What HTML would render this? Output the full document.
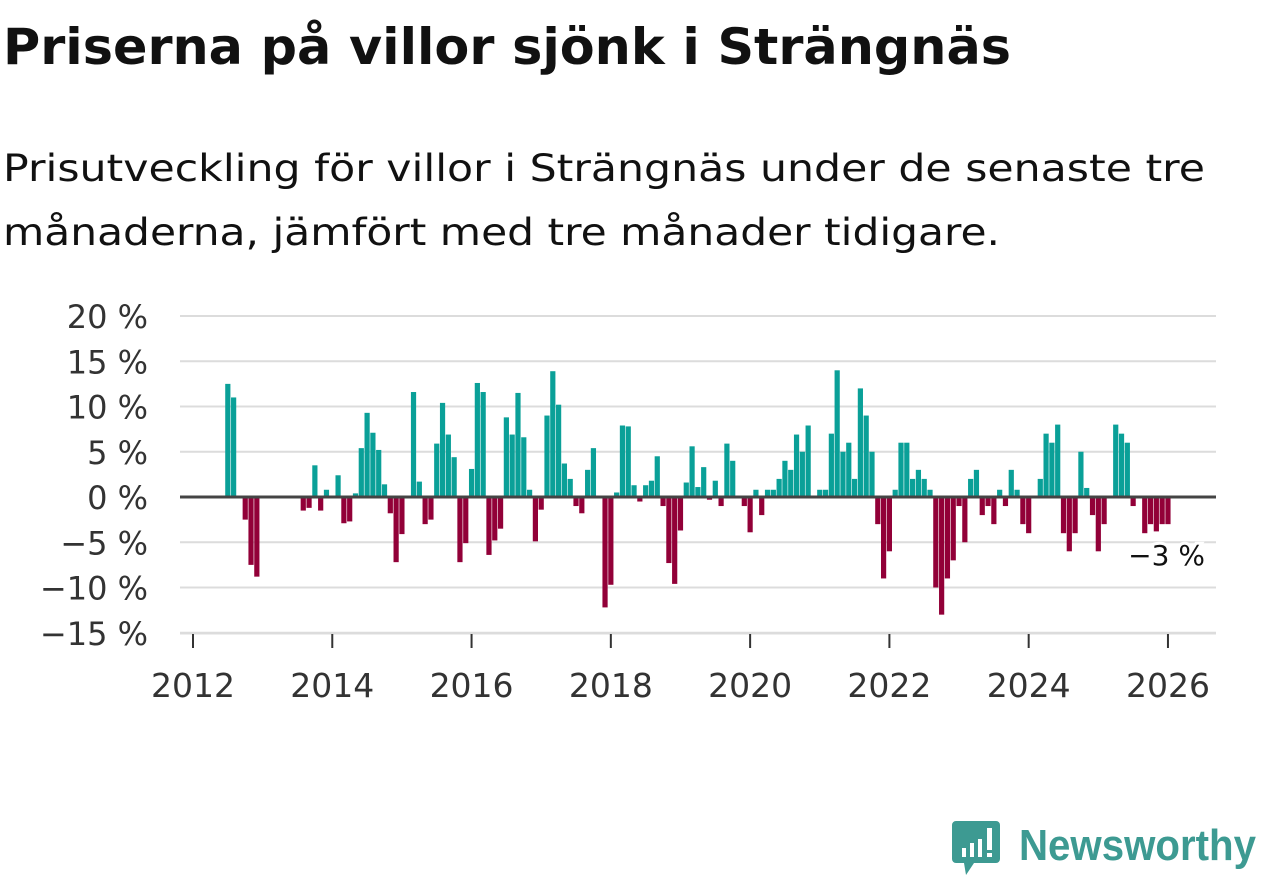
<!DOCTYPE html>
<html><head><meta charset="utf-8">
<style>
body{margin:0;background:#fff;width:1262px;height:879px;overflow:hidden;font-family:"DejaVu Sans","Liberation Sans",sans-serif;color:#111;}
svg{position:absolute;left:0;top:0;}
</style></head><body>
<svg width="1262" height="300">
  <text x="3" y="64" font-size="50" font-weight="bold" fill="#111" textLength="1008" lengthAdjust="spacingAndGlyphs">Priserna på villor sjönk i Strängnäs</text>
  <text x="3" y="181" font-size="37" fill="#111" textLength="1202" lengthAdjust="spacingAndGlyphs">Prisutveckling för villor i Strängnäs under de senaste tre</text>
  <text x="3" y="245" font-size="37" fill="#111" textLength="997" lengthAdjust="spacingAndGlyphs">månaderna, jämfört med tre månader tidigare.</text>
</svg>
<svg id="chart" width="1262" height="879"></svg>
<script>
const startYear = 2012;
const startMonth = 6; // July 2012 (0-based)
const values = [12.5,11,null,-2.5,-7.5,-8.8,null,null,null,null,null,null,null,-1.5,-1.2,3.5,-1.5,0.8,null,2.4,-2.9,-2.7,0.4,5.4,9.3,7.1,5.2,1.4,-1.8,-7.2,-4.1,null,11.6,1.7,-3,-2.5,5.9,10.4,6.9,4.4,-7.2,-5.1,3.1,12.6,11.6,-6.4,-4.8,-3.5,8.8,6.9,11.5,6.6,0.8,-4.9,-1.4,9,13.9,10.2,3.7,2,-1,-1.8,3,5.4,null,-12.2,-9.7,0.5,7.9,7.8,1.3,-0.5,1.3,1.8,4.5,-1,-7.3,-9.6,-3.7,1.6,5.6,1.1,3.3,-0.3,1.8,-1,5.9,4,null,-1,-3.9,0.8,-2,0.8,0.8,2,4,3,6.9,5,7.9,null,0.8,0.8,7,14,5,6,2,12,9,5,-3,-9,-6,0.8,6,6,2,3,2,0.8,-10,-13,-9,-7,-1,-5,2,3,-2,-1,-3,0.8,-1,3,0.8,-3,-4,null,2,7,6,8,-4,-6,-4,5,1,-2,-6,-3,null,8,7,6,-1,null,-4,-3,-3.8,-3,-3];
const yTicks = [20,15,10,5,0,-5,-10,-15];
const yTickLabels = ["20 %","15 %","10 %","5 %","0 %","−5 %","−10 %","−15 %"];
const xTicks = [2012,2014,2016,2018,2020,2022,2024,2026];
const lastLabel = "−3 %";

const svg = document.getElementById('chart');
const NS = 'http://www.w3.org/2000/svg';
const y = v => 497 - v * 9.05;
const x = yr => 193 + (yr - 2012) * 69.64;
const xm = i => x(startYear + (startMonth + i) / 12);
function mk(tag, attrs){const e=document.createElementNS(NS,tag);for(const k in attrs)e.setAttribute(k,attrs[k]);svg.appendChild(e);return e;}

yTicks.forEach((t,i)=>{
  if(t!==0){const g=mk('line',{x1:180,x2:1216,y1:y(t),y2:y(t),stroke:'#dcdcdc','stroke-width':2});
  
  }
  const tx=mk('text',{x:148,y:y(t)+12,'text-anchor':'end','font-size':32,fill:'#333'});
  tx.textContent=yTickLabels[i];
  
  
});
values.forEach((v,i)=>{
  if(v===null)return;
  const cx=xm(i);
  const r=mk('rect',{x:cx-2.6,width:5.2,y:Math.min(y(v),y(0)),height:Math.abs(y(v)-y(0)),fill:v>=0?'#0aa098':'#920038'});
  
  
});
const zl=mk('line',{x1:180,x2:1216,y1:y(0),y2:y(0),stroke:'#444','stroke-width':3});


const ax=mk('line',{x1:180,x2:1216,y1:634,y2:634,stroke:'#dcdcdc','stroke-width':1});


xTicks.forEach(t=>{
  const tk=mk('line',{x1:x(t),x2:x(t),y1:634,y2:648,stroke:'#333','stroke-width':2});
  
  
  const tx=mk('text',{x:x(t),y:697,'text-anchor':'middle','font-size':33,fill:'#333'});
  tx.textContent=t;
  
  
});
const lastI=values.length-1;
const lb=mk('text',{x:xm(lastI)+37,y:y(values[lastI])+41,'text-anchor':'end','font-size':28,fill:'#111',stroke:'#fff','stroke-width':6,'paint-order':'stroke'});
lb.textContent=lastLabel;


</script>
<svg width="1262" height="879" style="pointer-events:none">
  <path d="M956 821 h40 a4 4 0 0 1 4 4 v34 a4 4 0 0 1 -4 4 h-22 l-8 12 l-2 -12 h-8 a4 4 0 0 1 -4 -4 v-34 a4 4 0 0 1 4 -4z" fill="#3d9a92"/>
  <rect x="962" y="848" width="4" height="9" fill="#fff"/><rect x="970" y="843" width="4" height="14" fill="#fff"/><rect x="978" y="839" width="4" height="18" fill="#fff"/><rect x="987" y="828" width="5" height="22" fill="#fff"/><rect x="987" y="853" width="5" height="4" fill="#fff"/>
  <text x="1019" y="860" font-size="44" font-weight="bold" fill="#3d9a92" textLength="237" lengthAdjust="spacingAndGlyphs" font-family="Liberation Sans, sans-serif">Newsworthy</text>
</svg>
</body></html>
